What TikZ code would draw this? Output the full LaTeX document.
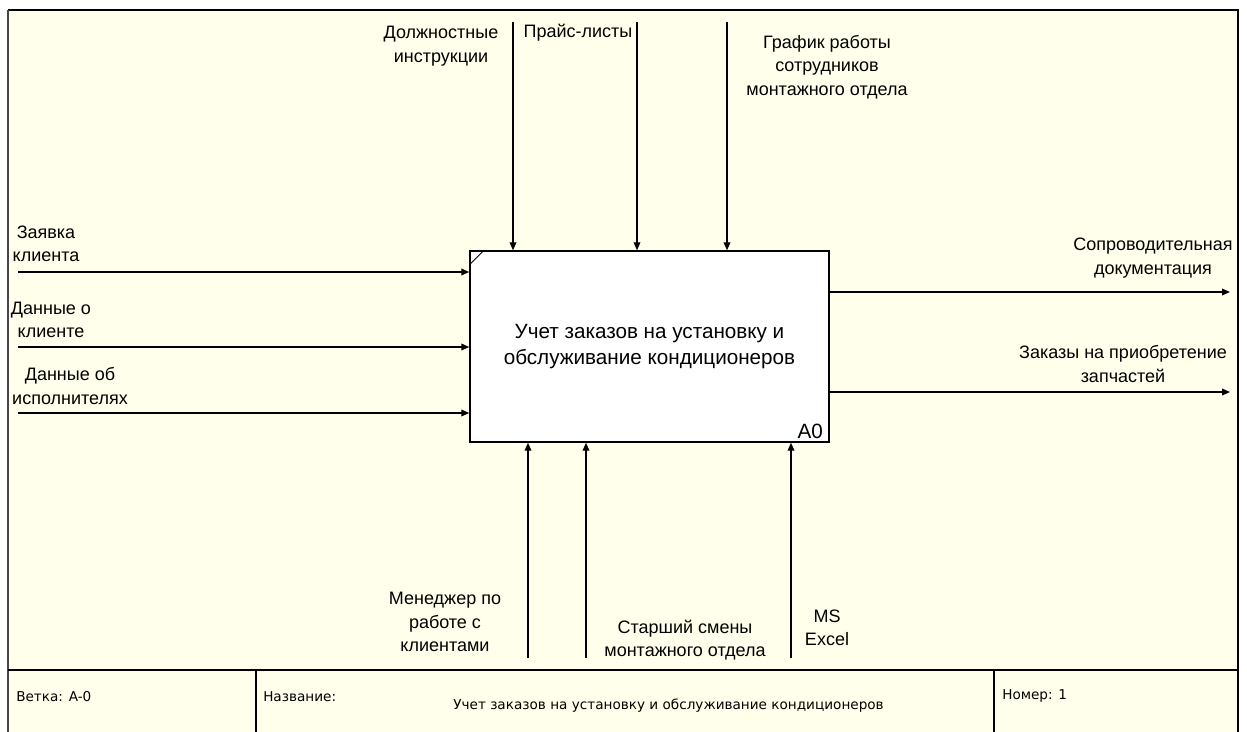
\documentclass[tikz,border=0pt]{standalone}
\usepackage{fontspec}
\setmainfont{Liberation Sans}
\newfontfamily\footfont{DejaVu Sans}
\usepackage{tikz}
\usetikzlibrary{arrows.meta,positioning}
\definecolor{idefbg}{RGB}{255,255,235}
\definecolor{idefframe}{RGB}{70,70,70}

\begin{document}
\begin{tikzpicture}[x=0.75pt,y=-0.75pt]%[->,>=Triangle, semithick]
\tikzstyle{activity}=[draw, line width=1.1pt, fill=white, shape=rectangle, minimum width=269.25pt, minimum height=143.25pt, align=center, font=\fontsize{15.5}{20}\selectfont]
\tikzstyle{boxnum}=[inner sep=0pt, font=\fontsize{15.5}{20}\selectfont]
\tikzstyle{arclabel}=[align=center, inner sep=0pt, font=\fontsize{13.5}{17.6}\selectfont]
\tikzstyle{footlabel}=[anchor=west, inner sep=0pt, font=\footfont\fontsize{10.2}{12}\selectfont]
\tikzstyle{arrow}=[line width=1pt, -{Triangle[length=6pt,width=5pt]}]

\useasboundingbox (0,0) rectangle (1247,732);
\fill[idefbg] (8,10) rectangle (1238,740);

% frame and footer
\draw[line width=1.4pt] (8,10) -- (1238,10) -- (1238,740);
\draw[idefframe, line width=2.2pt] (8,10) -- (8,740);
\draw[line width=1.4pt] (8,670) -- (1238,670);
\draw[line width=1.1pt] (256,670) -- (256,740);
\draw[line width=1.1pt] (994,670) -- (994,740);

\node[activity] (0) at (649.5,346.5) {Учет заказов на установку и\\обслуживание кондиционеров};
\node[boxnum] (1) [above left=3pt and 5pt of 0.south east] {A0};
\draw[line width=0.6pt] ([yshift=-11pt]0.north west) -- ([xshift=11pt]0.north west);

% inputs
\coordinate (i1) at (18,272);
\coordinate (i2) at (18,347);
\coordinate (i3) at (18,413);
\draw[arrow] (i1) -- (i1 -| 0.west);
\draw[arrow] (i2) -- (i2 -| 0.west);
\draw[arrow] (i3) -- (i3 -| 0.west);
\node[arclabel] (2) at (46,244) {Заявка\\клиента};
\node[arclabel] (3) at (51,320) {Данные о\\клиенте};
\node[arclabel] (4) at (70,386) {Данные об\\исполнителях};

% controls
\coordinate (c1) at (513,22);
\coordinate (c2) at (637,22);
\coordinate (c3) at (727,22);
\draw[arrow] (c1) -- (c1 |- 0.north);
\draw[arrow] (c2) -- (c2 |- 0.north);
\draw[arrow] (c3) -- (c3 |- 0.north);
\node[arclabel] (5) at (441,46) {Должностные\\инструкции};
\node[arclabel] (6) at (578,33) {Прайс-листы};
\node[arclabel] (7) at (827,67) {График работы\\сотрудников\\монтажного отдела};

% outputs
\coordinate (o1) at (1230,292);
\coordinate (o2) at (1230,392);
\draw[arrow] (o1 -| 0.east) -- (o1);
\draw[arrow] (o2 -| 0.east) -- (o2);
\node[arclabel] (8) at (1153,258) {Сопроводительная\\документация};
\node[arclabel] (9) at (1123,364) {Заказы на приобретение\\запчастей};

% mechanisms
\coordinate (m1) at (528,658);
\coordinate (m2) at (586,658);
\coordinate (m3) at (791,658);
\draw[arrow] (m1) -- (m1 |- 0.south);
\draw[arrow] (m2) -- (m2 |- 0.south);
\draw[arrow] (m3) -- (m3 |- 0.south);
\node[arclabel] (10) at (445,622) {Менеджер по\\работе с\\клиентами};
\node[arclabel] (11) at (685,640) {Старший смены\\монтажного отдела};
\node[arclabel] (12) at (827,628) {MS\\Excel};

% footer texts
\node[footlabel] (13) at (16,697) {Ветка: A-0};
\node[footlabel] (14) at (263,697) {Название:};
\node[footlabel, anchor=center] (15) at (668.5,706) {Учет заказов на установку и обслуживание кондиционеров};
\node[footlabel] (16) at (1002,696) {Номер: 1};

\end{tikzpicture}
\end{document}
